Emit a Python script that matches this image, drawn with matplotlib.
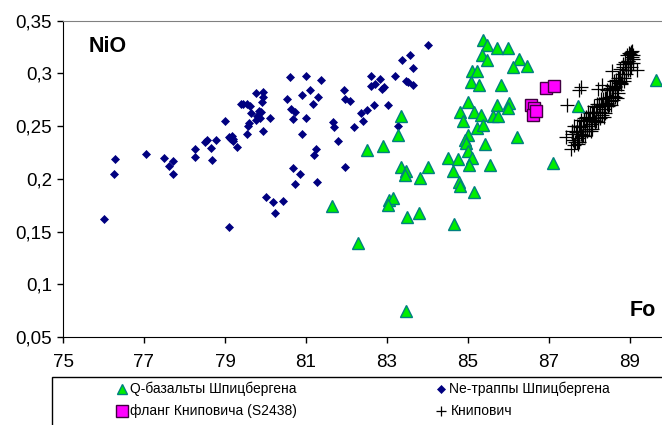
import matplotlib
matplotlib.use('Agg')
import matplotlib.pyplot as plt
from matplotlib.lines import Line2D
from matplotlib.patches import Rectangle

plt.rcParams['font.family'] = ['Liberation Sans', 'DejaVu Sans']

# Q-basalts of Spitsbergen (Fo, NiO)
q_fo = [85.36, 85.46, 85.71, 85.99, 85.34, 85.48, 86.27, 86.10, 86.45, 85.09,
        85.21, 85.07, 85.28, 85.81, 84.99, 84.80, 85.15, 85.33, 85.71, 86.01,
        85.99, 84.88, 85.62, 85.75, 85.21, 85.38, 85.00, 84.93, 84.95, 85.42,
        86.22, 85.00, 84.51, 84.76, 85.11, 85.03, 85.54, 84.64, 84.79, 84.80,
        85.15, 87.11, 83.34, 83.28, 82.50, 82.89, 83.34, 83.48, 83.45, 83.81,
        84.01, 83.06, 83.14, 83.03, 81.63, 83.49, 83.79, 84.65, 82.29, 83.48,
        87.72, 89.64]
q_nio = [0.332, 0.327, 0.324, 0.324, 0.317, 0.313, 0.314, 0.306, 0.307, 0.302,
         0.302, 0.292, 0.289, 0.289, 0.273, 0.263, 0.263, 0.261, 0.270, 0.272,
         0.267, 0.255, 0.260, 0.260, 0.248, 0.251, 0.242, 0.237, 0.234, 0.233,
         0.240, 0.226, 0.220, 0.219, 0.220, 0.213, 0.213, 0.207, 0.197, 0.193,
         0.188, 0.215, 0.260, 0.242, 0.227, 0.231, 0.211, 0.207, 0.204, 0.201,
         0.211, 0.180, 0.182, 0.175, 0.174, 0.164, 0.168, 0.157, 0.139, 0.075,
         0.269, 0.294]

# Ne-traps of Spitsbergen
ne_fo = [76.00, 76.28, 76.25, 77.05, 77.50, 77.72, 77.62, 77.72, 78.26, 78.26,
         78.50, 78.56, 78.66, 78.69, 78.77, 79.00, 79.10, 79.15, 79.20, 79.12,
         79.30, 79.11, 79.40, 79.76, 79.93, 79.93, 79.91, 79.45, 79.55, 79.62,
         79.63, 79.83, 79.88, 79.80, 79.86, 79.77, 79.59, 79.57, 79.55, 79.93,
         79.17, 79.19, 80.11, 80.60, 81.00, 81.36, 81.10, 80.90, 81.30, 80.52,
         81.17, 80.62, 80.73, 80.69, 81.00, 80.90, 81.24, 81.20, 81.96, 80.69,
         80.85, 80.72, 81.28, 80.01, 80.18, 80.44, 80.23, 81.67, 81.70, 81.78,
         81.95, 81.96, 82.09, 82.67, 83.03, 82.50, 82.35, 82.41, 82.19, 83.28,
         82.60, 82.83, 82.71, 82.61, 82.93, 82.87, 83.46, 83.53, 83.63, 83.20,
         83.37, 83.57, 83.63, 84.02]
ne_nio = [0.162, 0.219, 0.205, 0.224, 0.220, 0.217, 0.212, 0.205, 0.228, 0.221,
          0.235, 0.237, 0.229, 0.218, 0.237, 0.255, 0.240, 0.238, 0.236, 0.239,
          0.230, 0.154, 0.271, 0.281, 0.282, 0.278, 0.273, 0.271, 0.271, 0.269,
          0.262, 0.264, 0.263, 0.260, 0.258, 0.256, 0.253, 0.250, 0.243, 0.245,
          0.241, 0.238, 0.258, 0.297, 0.298, 0.294, 0.284, 0.280, 0.278, 0.276,
          0.271, 0.266, 0.263, 0.257, 0.258, 0.243, 0.228, 0.223, 0.211, 0.210,
          0.205, 0.195, 0.197, 0.183, 0.178, 0.179, 0.168, 0.254, 0.249, 0.236,
          0.284, 0.276, 0.274, 0.270, 0.270, 0.265, 0.262, 0.255, 0.249, 0.250,
          0.298, 0.295, 0.290, 0.288, 0.287, 0.285, 0.293, 0.292, 0.289, 0.298,
          0.313, 0.317, 0.305, 0.327]

# Knipovich flank (S2438)
fl_fo = [86.92, 87.12, 86.56, 86.64, 86.61, 86.68]
fl_nio = [0.286, 0.288, 0.270, 0.267, 0.261, 0.264]

# Knipovich
kn_fo = [87.55, 87.58, 87.60, 87.62, 87.65, 87.68, 87.70, 87.72, 87.74, 87.76,
         87.78, 87.80, 87.82, 87.84, 87.86, 87.88, 87.90, 87.92, 87.94, 87.96,
         87.98, 88.00, 88.02, 88.04, 88.06, 88.08, 88.10, 88.12, 88.14, 88.16,
         88.18, 88.20, 88.22, 88.24, 88.26, 88.28, 88.30, 88.32, 88.34, 88.36,
         88.38, 88.40, 88.42, 88.44, 88.46, 88.48, 88.50, 88.52, 88.54, 88.56,
         88.58, 88.60, 88.62, 88.64, 88.66, 88.68, 88.70, 88.72, 88.74, 88.76,
         88.78, 88.80, 88.82, 88.84, 88.86, 88.88, 88.90, 88.92, 88.94, 88.96,
         88.98, 89.00, 89.02, 89.04, 89.06, 89.08,
         87.56, 87.61, 87.67, 87.71, 87.75, 87.79, 87.83, 87.87, 87.91, 87.95,
         87.99, 88.03, 88.07, 88.11, 88.15, 88.19, 88.23, 88.27, 88.31, 88.35,
         88.39, 88.43, 88.47, 88.51, 88.55, 88.59, 88.63, 88.67, 88.71, 88.75,
         88.79, 88.83, 88.87, 88.91, 88.95, 88.99, 89.03, 89.07,
         87.44, 87.75, 87.80, 88.30, 88.20, 88.55, 89.17, 88.99, 87.42, 87.68,
         89.07]
kn_nio = [0.228, 0.243, 0.237, 0.250, 0.235, 0.244, 0.250, 0.239, 0.235, 0.249,
          0.243, 0.256, 0.241, 0.250, 0.255, 0.245, 0.241, 0.256, 0.250, 0.263,
          0.247, 0.256, 0.262, 0.252, 0.247, 0.262, 0.256, 0.269, 0.254, 0.263,
          0.268, 0.258, 0.254, 0.269, 0.263, 0.276, 0.261, 0.270, 0.276, 0.266,
          0.262, 0.277, 0.271, 0.284, 0.269, 0.278, 0.284, 0.274, 0.270, 0.285,
          0.279, 0.293, 0.278, 0.287, 0.294, 0.284, 0.281, 0.296, 0.291, 0.304,
          0.290, 0.299, 0.306, 0.296, 0.293, 0.309, 0.303, 0.317, 0.303, 0.312,
          0.319, 0.310, 0.306, 0.321, 0.316, 0.314,
          0.245, 0.232, 0.244, 0.233, 0.250, 0.245, 0.242, 0.258, 0.259, 0.245,
          0.257, 0.245, 0.263, 0.258, 0.255, 0.271, 0.271, 0.258, 0.270, 0.259,
          0.277, 0.272, 0.270, 0.286, 0.288, 0.275, 0.288, 0.277, 0.296, 0.292,
          0.291, 0.309, 0.311, 0.299, 0.312, 0.303, 0.320, 0.317,
          0.270, 0.284, 0.287, 0.289, 0.285, 0.302, 0.303, 0.318, 0.240, 0.235,
          0.310]

x_ticks = [75, 77, 79, 81, 83, 85, 87, 89]
y_ticks = [0.05, 0.1, 0.15, 0.2, 0.25, 0.3, 0.35]
y_labels = ['0,05', '0,1', '0,15', '0,2', '0,25', '0,3', '0,35']

labels = ['Q-базальты Шпицбергена', 'Ne-траппы Шпицбергена',
          'фланг Книповича (S2438)', 'Книпович']

W, H = 662, 425
fig = plt.figure(figsize=(W / 100, H / 100), dpi=100)
ax = fig.add_axes([63 / W, 1 - 337 / H, 1 - 63 / W, (337 - 20.7) / H])

green = dict(marker='^', ls='none', ms=9, mfc='#00ee00', mec='#008080', mew=1)
blue = dict(marker='D', ls='none', ms=4.4, mfc='#000080', mec='#000080', mew=0.5)
pink = dict(marker='s', ls='none', ms=8, mfc='#ff00ff', mec='#400040', mew=1)
cross = dict(marker='+', ls='none', ms=10, mec='black', mew=0.9)

ax.plot(kn_fo, kn_nio, **cross)
ax.plot(ne_fo, ne_nio, **blue)
ax.plot(q_fo, q_nio, **green)
ax.plot(fl_fo, fl_nio, **pink)

ax.set_xlim(75, 75 + (W - 63) / 40.5)
ax.set_ylim(0.05, 0.35)
ax.set_xticks(x_ticks)
ax.set_yticks(y_ticks)
ax.set_yticklabels(y_labels)
ax.tick_params(direction='out', length=4, width=1, labelsize=13.5, pad=4)
ax.tick_params(axis='x', pad=8)
ax.spines['right'].set_visible(False)
ax.spines['top'].set_color('#808080')
for s in ['left', 'bottom']:
    ax.spines[s].set_color('black')

ax.text(108 / W, 1 - 47 / H, 'NiO', transform=fig.transFigure, fontsize=15.5,
        fontweight='bold', ha='center', va='center')
ax.text(643 / W, 1 - 310 / H, 'Fo', transform=fig.transFigure, fontsize=15.5,
        fontweight='bold', ha='center', va='center')

# legend box, cut off at the right and bottom like the original
fig.add_artist(Rectangle((52 / W, -0.1), 1.2, 0.1 + 48 / H, transform=fig.transFigure,
                         fill=False, ec='black', lw=1))
rows = [1 - 389 / H, 1 - 411 / H]
cols = [122 / W, 441 / W]
styles = [dict(green, ms=7), dict(blue, ms=4), dict(pink, ms=8), dict(cross, ms=7)]
for i, lab in enumerate(labels):
    xm = cols[i % 2]
    ym = rows[i // 2]
    fig.add_artist(Line2D([xm], [ym], transform=fig.transFigure, **styles[i]))
    fig.text(xm + 8 / W + (2 / W if i == 3 else 0), ym, lab, fontsize=10,
             ha='left', va='center')

fig.savefig('out.png', dpi=100)
